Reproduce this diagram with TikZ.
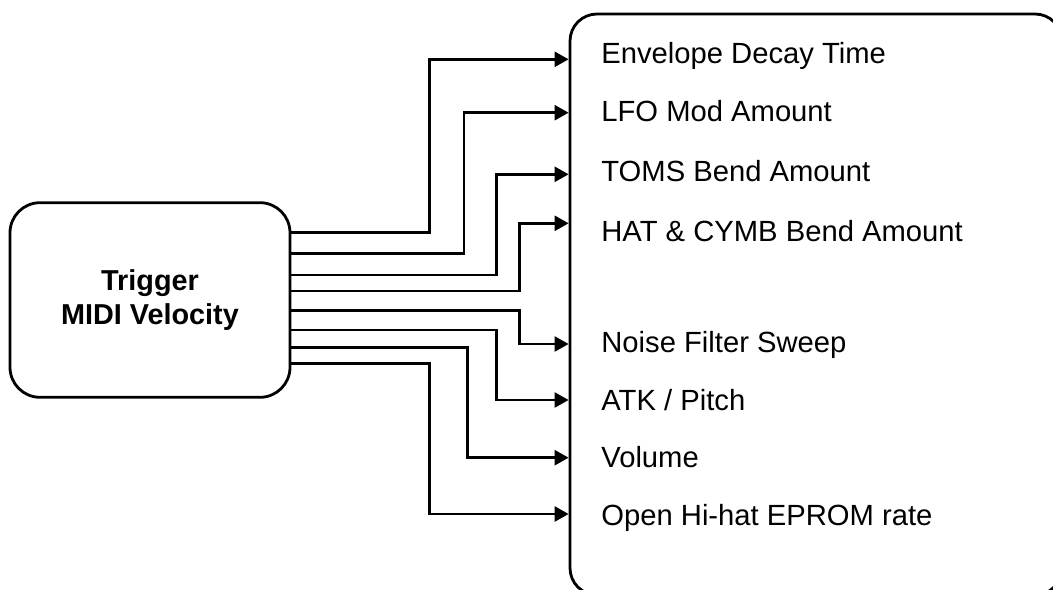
\documentclass[tikz,border=0pt]{standalone}
\usepackage{fontspec}
\setmainfont{Liberation Sans}
\usetikzlibrary{positioning, arrows.meta}

\begin{document}
\begin{tikzpicture}[
    x=0.5pt, y=-0.5pt,
    box/.style = {rectangle, draw, line width=1.4pt, inner sep=0pt},
    srcbox/.style = {box, rounded corners=15pt, minimum width=140pt, minimum height=97.3pt, align=center, font=\fontsize{14.4pt}{17pt}\selectfont\bfseries},
    dstbox/.style = {box, rounded corners=13.5pt, minimum width=246pt, minimum height=290.5pt},
    param/.style = {anchor=base west, inner sep=0pt, font=\fontsize{14.6pt}{17pt}\selectfont},
    arrow/.style = {-{Triangle[length=7pt, width=7.5pt]}, line width=1.25pt}
]
    \useasboundingbox (0,0) rectangle (1053,589);

    \node[srcbox] (trig) at (150,300) {Trigger\\MIDI Velocity};
    \node[dstbox] (panel) at (816,304.5) {};

    \node[param] (env) at (601,63.3) {Envelope Decay Time};
    \node[param] (lfo) at (601,121.7) {LFO Mod Amount};
    \node[param] (toms) at (601,181.7) {TOMS Bend Amount};
    \node[param] (hat) at (601,241.7) {HAT \& CYMB Bend Amount};
    \node[param] (noise) at (601,352.3) {Noise Filter Sweep};
    \node[param] (atk) at (601,410) {ATK / Pitch};
    \node[param] (vol) at (601,467.7) {Volume};
    \node[param] (ohh) at (601,525.7) {Open Hi-hat EPROM rate};

    \draw[arrow] (trig.east |- 0,232.7) -| (429.3,59.3) -- (panel.west |- 0,59.3);
    \draw[arrow] (trig.east |- 0,253.3) -| (464,112.7) -- (panel.west |- 0,112.7);
    \draw[arrow] (trig.east |- 0,275) -| (496.7,174.3) -- (panel.west |- 0,174.3);
    \draw[arrow] (trig.east |- 0,291) -| (519.3,223.3) -- (panel.west |- 0,223.3);
    \draw[arrow] (trig.east |- 0,310.7) -| (519.3,344) -- (panel.west |- 0,344);
    \draw[arrow] (trig.east |- 0,330) -| (496.7,400) -- (panel.west |- 0,400);
    \draw[arrow] (trig.east |- 0,347.7) -| (467.7,457.7) -- (panel.west |- 0,457.7);
    \draw[arrow] (trig.east |- 0,363.3) -| (429.3,514) -- (panel.west |- 0,514);
\end{tikzpicture}
\end{document}
